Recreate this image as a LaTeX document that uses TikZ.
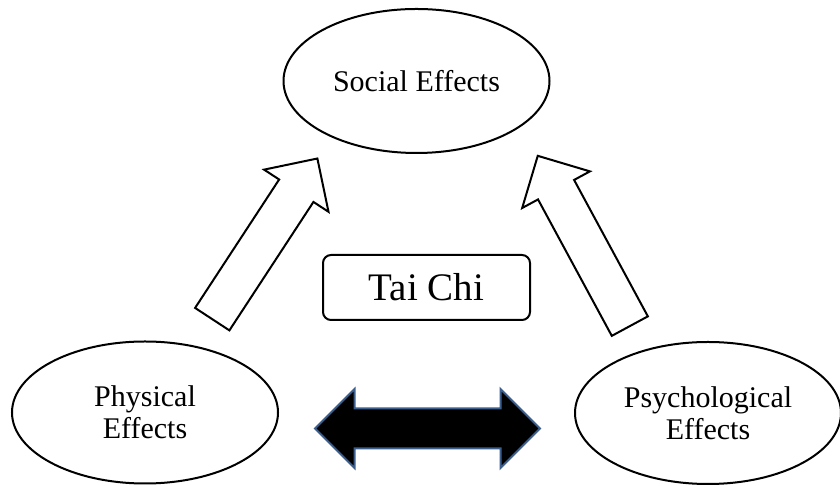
\documentclass[tikz,border=0pt]{standalone}
\usepackage{fontspec}
\setmainfont{Liberation Serif}
\usetikzlibrary{shapes.geometric,shapes.arrows}
\definecolor{Ink}{HTML}{000000}
\definecolor{Steel}{HTML}{3B5E8C}

\begin{document}
\begin{tikzpicture}[
      x=0.5pt,y=0.5pt,
      effect/.style={draw=Ink,ellipse,line width=1pt,inner sep=0pt,align=center,
        minimum width=133pt,minimum height=71pt,font=\fontsize{15}{16}\selectfont},
      box/.style={draw=Ink,line width=1pt,rounded corners=4pt,inner sep=0pt,
        minimum width=103.5pt,minimum height=32.5pt,font=\fontsize{19.5}{20}\selectfont},
      lift/.style={draw=Ink,fill=white,line width=1pt,single arrow,inner xsep=0pt,
        inner ysep=9.75pt,single arrow head extend=9pt,anchor=tail},
      link/.style={draw=Steel,fill=Ink,line width=1pt,double arrow,inner xsep=0pt,
        inner ysep=9.5pt,minimum height=112.5pt,double arrow head extend=9.75pt}
    ]
      \useasboundingbox (0,0) rectangle (840,486);
      \node[effect,minimum height=72pt] (social) at (416.5,405) {Social Effects};
      \node[effect] (physical) at (145,73.5) {Physical\\Effects};
      \node[effect] (psycho) at (708,73) {Psychological\\Effects};
      \node[box] (taichi) at (426.5,198.5) {Tai Chi};
      \node[lift,minimum height=96pt,rotate=56.8] (upleft) at (211.7,166) {};
      \node[lift,minimum height=96.8pt,rotate=118.4] (upright) at (630.3,159) {};
      \node[link] (between) at (427.5,57.5) {};
    \end{tikzpicture}
\end{document}
